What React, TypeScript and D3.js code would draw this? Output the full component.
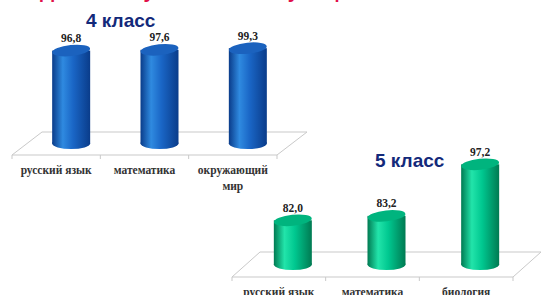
import React from "react";
import { scaleBand, scaleLinear } from "d3";

// 4 класс
const grade4Subjects = ["русский язык", "математика", "окружающий мир"];
const grade4Values = [96.8, 97.6, 99.3];
const grade4Domain = [0, 100];

// 5 класс
const grade5Subjects = ["русский язык", "математика", "биология"];
const grade5Values = [82.0, 83.2, 97.2];
const grade5Domain = [70, 100];

const fmt = (v: number) => v.toFixed(1).replace(".", ",");

type PanelProps = {
  id: string;
  title: string;
  titleX: number;
  titleY: number;
  subjects: string[];
  values: number[];
  domain: number[];
  x0: number;
  x1: number;
  yFront: number;
  dx: number;
  dy: number;
  yTop: number;
  colors: { dark: string; light: string; mid: string; top: string };
};

const Panel = (p: PanelProps) => {
  const x = scaleBand<string>().domain(p.subjects).range([p.x0, p.x1]);
  const baseY = p.yFront + p.dy / 2;
  const y = scaleLinear().domain(p.domain).range([baseY, p.yTop]);
  const w = 38;
  const ry = 5.5;
  const floor = [
    [p.x0, p.yFront],
    [p.x1, p.yFront],
    [p.x1 + p.dx, p.yFront + p.dy],
    [p.x0 + p.dx, p.yFront + p.dy],
  ];
  const ticks = [p.x0, ...p.subjects.map((s) => (x(s) ?? 0) + x.bandwidth())];

  return (
    <g>
      <defs>
        <linearGradient id={`body-${p.id}`} x1="0" x2="1" y1="0" y2="0">
          <stop offset="0%" stopColor={p.colors.dark} />
          <stop offset="28%" stopColor={p.colors.light} />
          <stop offset="55%" stopColor={p.colors.mid} />
          <stop offset="100%" stopColor={p.colors.dark} />
        </linearGradient>
      </defs>
      <polygon
        points={floor.map((d) => d.join(",")).join(" ")}
        fill="#fff"
        stroke="#c9c9c9"
        strokeWidth={1}
      />
      {ticks.map((t, i) => (
        <line key={i} x1={t} x2={t} y1={p.yFront} y2={p.yFront + 4} stroke="#c9c9c9" />
      ))}
      {p.subjects.map((s, i) => {
        const cx = (x(s) ?? 0) + x.bandwidth() / 2 + p.dx / 2;
        const top = y(p.values[i]);
        return (
          <g key={s}>
            <ellipse cx={cx} cy={baseY} rx={w / 2} ry={ry} fill={`url(#body-${p.id})`} />
            <rect x={cx - w / 2} y={top} width={w} height={baseY - top} fill={`url(#body-${p.id})`} />
            <ellipse
              cx={cx}
              cy={top}
              rx={w / 2}
              ry={ry}
              fill={p.colors.top}
              transform={`rotate(-6 ${cx} ${top})`}
            />
            <text
              x={cx}
              y={top - ry - 3}
              textAnchor="middle"
              fontFamily="Liberation Serif, serif"
              fontWeight="bold"
              fontSize={11.5}
              fill="#222"
            >
              {fmt(p.values[i])}
            </text>
          </g>
        );
      })}
      {p.subjects.map((s) => {
        const cx = (x(s) ?? 0) + x.bandwidth() / 2;
        const words = s === "окружающий мир" ? ["окружающий", "мир"] : [s];
        return (
          <text
            key={s}
            textAnchor="middle"
            fontFamily="Liberation Serif, serif"
            fontWeight="bold"
            fontSize={11.5}
            fill="#333"
          >
            {words.map((wd, j) => (
              <tspan key={j} x={cx} y={p.yFront + 19 + j * 16}>
                {wd}
              </tspan>
            ))}
          </text>
        );
      })}
      <text
        x={p.titleX}
        y={p.titleY}
        fontFamily="Liberation Sans, Arial, sans-serif"
        fontWeight="bold"
        fontSize={19}
        fill="#13297a"
      >
        {p.title}
      </text>
    </g>
  );
};

const App = () => {
  return (
    <svg
      width={541}
      height={295}
      style={{ position: "absolute", left: 0, top: 0, background: "#fff" }}
    >
      <text
        x={40}
        y={-2}
        fontFamily="Liberation Sans, Arial, sans-serif"
        fontWeight="bold"
        fontSize={20}
        fill="#e0104a"
      >
        Динамика успеваемости учащихся
      </text>
      <Panel
        id="g4"
        title="4 класс"
        titleX={86}
        titleY={27}
        subjects={grade4Subjects}
        values={grade4Values}
        domain={grade4Domain}
        x0={12}
        x1={277}
        yFront={155}
        dx={30}
        dy={-23}
        yTop={47.5}
        colors={{ dark: "#0a3c8a", light: "#2f8ae0", mid: "#1a66c6", top: "#1b62be" }}
      />
      <Panel
        id="g5"
        title="5 класс"
        titleX={375}
        titleY={167}
        subjects={grade5Subjects}
        values={grade5Values}
        domain={grade5Domain}
        x0={232}
        x1={513}
        yFront={277}
        dx={28}
        dy={-25}
        yTop={154}
        colors={{ dark: "#007a52", light: "#22e4aa", mid: "#00c890", top: "#00b47e" }}
      />
    </svg>
  );
};

export default App;
